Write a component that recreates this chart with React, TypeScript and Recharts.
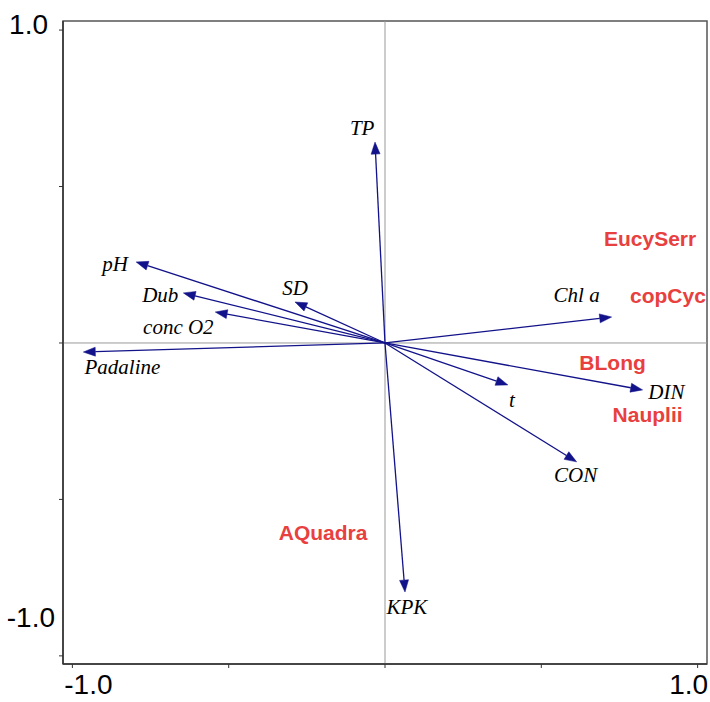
import React from "react";
import {
  ReferenceArea,
  ReferenceLine,
  Scatter,
  ScatterChart,
  XAxis,
  YAxis
} from "recharts";

// environmental variables (arrow tips, in ordination units)
const envNames = ["TP", "pH", "Dub", "conc O2", "SD", "Padaline", "Chl a", "DIN", "t", "CON", "KPK"];
const envX = [-0.032, -0.796, -0.645, -0.543, -0.288, -0.965, 0.725, 0.824, 0.393, 0.613, 0.064];
const envY = [0.642, 0.259, 0.16, 0.099, 0.131, -0.029, 0.083, -0.15, -0.134, -0.38, -0.796];
// where each variable's name sits
const envLabelX = [-0.073, -0.863, -0.719, -0.661, -0.288, -0.84, 0.613, 0.9, 0.406, 0.61, 0.07];
const envLabelY = [0.687, 0.252, 0.153, 0.051, 0.176, -0.077, 0.153, -0.157, -0.182, -0.422, -0.843];

// species scores
const speciesNames = ["EucySerr", "copCyc", "BLong", "Nauplii", "AQuadra"];
const speciesX = [0.848, 0.905, 0.728, 0.84, -0.198];
const speciesY = [0.335, 0.153, -0.061, -0.23, -0.604];

const xTicks = [-1, -0.5, 0, 0.5, 1];
const xTickLabels = ["-1.0", "", "", "", "1.0"];
const yTicks = [-1, -0.5, 0, 0.5, 1];
const yTickLabels = ["-1.0", "", "", "", "1.0"];

const X_DOMAIN: [number, number] = [-1.03, 1.03];
const Y_DOMAIN: [number, number] = [-1.026, 1.029];

const NAVY = "#12128a";
const RED = "#e8403e";
const SANS = "'Liberation Sans', Arial, Helvetica, sans-serif";
const SERIF = "'Liberation Serif', 'Times New Roman', serif";

function ArrowShape(props: any) {
  const { x1, y1, x2, y2 } = props;
  const dx = x2 - x1;
  const dy = y2 - y1;
  const len = Math.hypot(dx, dy) || 1;
  const ux = dx / len;
  const uy = dy / len;
  const headLen = 12;
  const headHalf = 4.5;
  const bx = x2 - ux * headLen;
  const by = y2 - uy * headLen;
  const pts = [
    `${x2},${y2}`,
    `${bx - uy * headHalf},${by + ux * headHalf}`,
    `${bx + uy * headHalf},${by - ux * headHalf}`
  ].join(" ");
  return (
    <g>
      <line x1={x1} y1={y1} x2={bx} y2={by} stroke={NAVY} strokeWidth={1.3} />
      <polygon points={pts} fill={NAVY} stroke={NAVY} strokeWidth={0.5} />
    </g>
  );
}

function XTick(props: any) {
  const { x, y, payload } = props;
  const label = xTickLabels[xTicks.indexOf(payload.value)];
  if (!label) return <g />;
  const shift = payload.value < 0 ? 16 : -9;
  return (
    <text x={x + shift} y={y} dy={24} textAnchor="middle" fontFamily={SANS} fontSize={28} fill="#000">
      {label}
    </text>
  );
}

function YTick(props: any) {
  const { x, y, payload } = props;
  const label = yTickLabels[yTicks.indexOf(payload.value)];
  if (!label) return <g />;
  const shiftX = payload.value > 0 ? -9 : -2;
  const shiftY = payload.value > 0 ? 4 : -29;
  return (
    <text x={x + shiftX} y={y + shiftY} textAnchor="end" fontFamily={SANS} fontSize={28} fill="#000">
      {label}
    </text>
  );
}

function EnvLabel(props: any) {
  const { cx, cy, payload } = props;
  return (
    <text
      x={cx}
      y={cy}
      dy="0.33em"
      textAnchor="middle"
      fontFamily={SERIF}
      fontStyle="italic"
      fontSize={21}
      fill="#000"
    >
      {payload.name}
    </text>
  );
}

function SpeciesLabel(props: any) {
  const { cx, cy, payload } = props;
  return (
    <text
      x={cx}
      y={cy}
      dy="0.36em"
      textAnchor="middle"
      fontFamily={SANS}
      fontWeight="bold"
      fontSize={21}
      fill={RED}
    >
      {payload.name}
    </text>
  );
}

export default function App() {
  const envLabels = envNames.map((name, i) => ({ name, x: envLabelX[i], y: envLabelY[i] }));
  const species = speciesNames.map((name, i) => ({ name, x: speciesX[i], y: speciesY[i] }));

  return (
    <div style={{ width: 710, height: 702, background: "#fff" }}>
      <style>{"body{margin:0}"}</style>
      <ScatterChart width={710} height={702} margin={{ top: 21, right: 3, bottom: 0, left: 0 }}>
        <XAxis
          type="number"
          dataKey="x"
          domain={X_DOMAIN}
          ticks={xTicks}
          allowDataOverflow
          height={38}
          tickSize={4}
          tickLine={{ stroke: "#333" }}
          axisLine={{ stroke: "#333", strokeWidth: 1.5 }}
          tick={<XTick />}
          interval={0}
        />
        <YAxis
          type="number"
          dataKey="y"
          domain={Y_DOMAIN}
          ticks={yTicks}
          allowDataOverflow
          width={63}
          tickSize={4}
          tickLine={{ stroke: "#333" }}
          axisLine={{ stroke: "#333", strokeWidth: 1.5 }}
          tick={<YTick />}
          interval={0}
        />
        <ReferenceLine x={0} stroke="#999" strokeWidth={1} />
        <ReferenceLine y={0} stroke="#999" strokeWidth={1} />
        {envNames.map((name, i) => (
          <ReferenceLine
            key={`arrow:${name}`}
            segment={[
              { x: 0, y: 0 },
              { x: envX[i], y: envY[i] }
            ]}
            shape={ArrowShape}
          />
        ))}
        <Scatter data={envLabels} shape={EnvLabel} isAnimationActive={false} />
        <Scatter data={species} shape={SpeciesLabel} isAnimationActive={false} />
        <ReferenceArea
          x1={X_DOMAIN[0]}
          x2={X_DOMAIN[1]}
          y1={Y_DOMAIN[0]}
          y2={Y_DOMAIN[1]}
          fill="none"
          fillOpacity={0}
          stroke="#555"
          strokeWidth={1.5}
        />
      </ScatterChart>
    </div>
  );
}
